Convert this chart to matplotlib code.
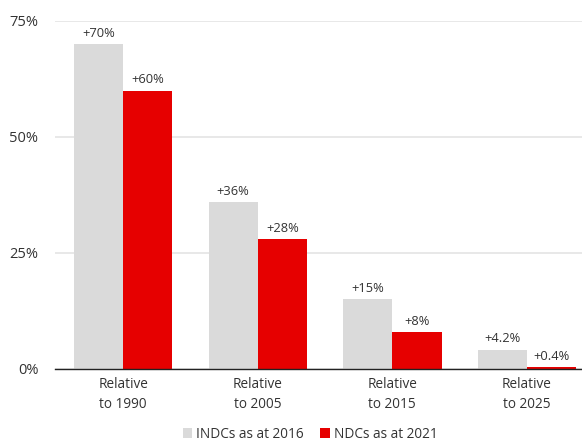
import matplotlib
matplotlib.use("Agg")
import matplotlib.pyplot as plt
import numpy as np

categories = ["Relative\nto 1990", "Relative\nto 2005", "Relative\nto 2015", "Relative\nto 2025"]
indc_2016 = [70, 36, 15, 4.2]
ndc_2021 = [60, 28, 8, 0.4]
indc_labels = ["+70%", "+36%", "+15%", "+4.2%"]
ndc_labels = ["+60%", "+28%", "+8%", "+0.4%"]
yticks = [0, 25, 50, 75]
ytick_labels = ["0%", "25%", "50%", "75%"]
series_names = ["INDCs as at 2016", "NDCs as at 2021"]

GRAY = "#DADADA"
RED = "#E60000"
TEXT = "#333333"

plt.rcParams["font.family"] = ["Open Sans", "DejaVu Sans"]

W, H = 582, 442
fig = plt.figure(figsize=(W / 100, H / 100), dpi=100)
ax = fig.add_axes([55 / W, 1 - 369 / H, (W - 55) / W, (369 - 21) / H])

x = np.arange(len(categories))
bw = 0.366
b1 = ax.bar(x - bw / 2, indc_2016, bw, color=GRAY, label=series_names[0], zorder=2)
b2 = ax.bar(x + bw / 2, ndc_2021, bw, color=RED, label=series_names[1], zorder=2)

for bars, labels in ((b1, indc_labels), (b2, ndc_labels)):
    for rect, lab in zip(bars, labels):
        ax.text(rect.get_x() + rect.get_width() / 2, rect.get_height() + 0.9, lab,
                ha="center", va="bottom", fontsize=9.3, color=TEXT)

ax.set_ylim(0, 75)
ax.set_xlim(-0.507, 3.41)
ax.set_yticks(yticks)
ax.set_yticklabels(ytick_labels, fontsize=10.5)
ax.set_xticks(x)
ax.set_xticklabels(categories, fontsize=9.8, linespacing=1.45)
ax.tick_params(axis="both", length=0, colors=TEXT)
ax.tick_params(axis="y", pad=12)
ax.tick_params(axis="x", pad=6)
ax.yaxis.grid(True, color="#E6E6E6", linewidth=1.3, zorder=0)
ax.set_axisbelow(True)
for s in ["top", "right", "left"]:
    ax.spines[s].set_visible(False)
ax.spines["bottom"].set_color("#222222")
ax.spines["bottom"].set_linewidth(1.0)
ax.spines["bottom"].set_zorder(3)

fig.legend(loc="center", bbox_to_anchor=(310 / W, 1 - 434 / H), ncol=2,
           frameon=False, fontsize=9.8, handlelength=0.7, handleheight=0.7,
           handletextpad=0.3, columnspacing=1.2, labelcolor=TEXT)

fig.savefig("out.png", dpi=100)
